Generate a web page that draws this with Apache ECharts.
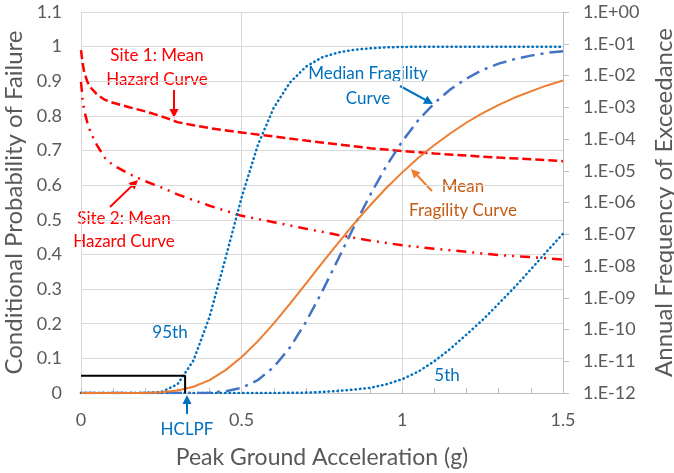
<!DOCTYPE html>
<html>
<head>
<meta charset="utf-8">
<script src="https://cdn.jsdelivr.net/npm/echarts@6/dist/echarts.min.js"></script>
<style>
  html, body { margin: 0; padding: 0; background: #fff; }
  #chart { width: 674px; height: 473px; }
</style>
</head>
<body>
<div id="chart"></div>
<script>
// fragility curves — PGA (g) vs conditional probability of failure
const fragX = [0, 0.05, 0.1, 0.15, 0.2, 0.25, 0.3, 0.35, 0.4, 0.45, 0.5, 0.55, 0.6, 0.65, 0.7, 0.75,
  0.8, 0.85, 0.9, 0.95, 1.0, 1.05, 1.1, 1.15, 1.2, 1.25, 1.3, 1.35, 1.4, 1.45, 1.5];
const frag95 = [0, 0, 0, 0, 0.0001, 0.003, 0.025, 0.094, 0.22, 0.39, 0.565, 0.715, 0.824, 0.896, 0.942, 0.969,
  0.983, 0.991, 0.995, 0.998, 0.999, 1, 1, 1, 1, 1, 1, 1, 1, 1, 1];
const fragMedian = [0, 0, 0, 0, 0, 0, 0, 0, 0.001, 0.005, 0.015, 0.037, 0.075, 0.131, 0.205, 0.292,
  0.386, 0.481, 0.572, 0.655, 0.727, 0.788, 0.837, 0.877, 0.908, 0.933, 0.951, 0.964, 0.974, 0.982, 0.987];
const fragMean = [0, 0, 0, 0, 0.0003, 0.002, 0.007, 0.018, 0.037, 0.066, 0.104, 0.149, 0.201, 0.257, 0.316, 0.375,
  0.433, 0.489, 0.542, 0.592, 0.637, 0.679, 0.716, 0.75, 0.781, 0.808, 0.832, 0.853, 0.871, 0.888, 0.902];
const frag5 = [0, 0, 0, 0, 0, 0, 0, 0, 0, 0, 0, 0, 0.0002, 0.0005, 0.0012, 0.003,
  0.006, 0.01, 0.015, 0.025, 0.04, 0.062, 0.092, 0.128, 0.169, 0.211, 0.258, 0.306, 0.357, 0.409, 0.46];

// HCLPF marker (95th curve at 5%)
const hclpfX = [0, 0.324, 0.324];
const hclpfY = [0.05, 0.05, 0];

// seismic hazard curves — annual frequency of exceedance
const hazX = [0, 0.005, 0.01, 0.02, 0.03, 0.05, 0.075, 0.1, 0.15, 0.2, 0.25, 0.3, 0.35, 0.4,
  0.5, 0.6, 0.7, 0.8, 0.9, 1.0, 1.1, 1.2, 1.3, 1.4, 1.5];
const site1 = [6.3e-2, 2.5e-2, 1.26e-2, 6.3e-3, 4.2e-3, 2.5e-3, 1.7e-3, 1.38e-3, 1.0e-3, 7.4e-4, 5.2e-4, 3.4e-4, 2.7e-4, 2.2e-4,
  1.6e-4, 1.2e-4, 8.9e-5, 6.8e-5, 5.1e-5, 4.2e-5, 3.5e-5, 3.0e-5, 2.6e-5, 2.3e-5, 2.0e-5];
const site2 = [6.3e-3, 1.8e-3, 7.9e-4, 3.2e-4, 1.6e-4, 6.3e-5, 2.5e-5, 1.5e-5, 7.9e-6, 4.7e-6, 3.0e-6, 1.8e-6, 1.2e-6, 7.9e-7,
  3.8e-7, 2.4e-7, 1.5e-7, 9.5e-8, 6.3e-8, 4.5e-8, 3.5e-8, 2.8e-8, 2.2e-8, 1.9e-8, 1.6e-8];

const rightTickLabels = ["1.E+00", "1.E-01", "1.E-02", "1.E-03", "1.E-04", "1.E-05", "1.E-06",
  "1.E-07", "1.E-08", "1.E-09", "1.E-10", "1.E-11", "1.E-12"];

const FONT = "Lato, 'Open Sans', sans-serif";
const GREY = "#595959";
const RED = "#FF0000";
const BLUE = "#0070C0";

const zip = (xs, ys) => xs.map((x, i) => [x, ys[i]]);

function arrow(x1, y1, x2, y2, color) {
  const dx = x2 - x1, dy = y2 - y1;
  const len = Math.hypot(dx, dy);
  const ux = dx / len, uy = dy / len;
  const L = 9, W = 4.5;
  const bx = x2 - ux * L, by = y2 - uy * L;
  return {
    type: "group",
    children: [
      { type: "line", shape: { x1, y1, x2: bx + ux * 2, y2: by + uy * 2 }, style: { stroke: color, lineWidth: 2 } },
      {
        type: "polygon",
        shape: { points: [[x2, y2], [bx - uy * W, by + ux * W], [bx + uy * W, by - ux * W]] },
        style: { fill: color }
      }
    ]
  };
}

function label(text, x, y, color) {
  return {
    type: "text", x, y,
    style: { text, fill: color, font: "17px " + FONT, textAlign: "center", textVerticalAlign: "middle" }
  };
}

const chart = echarts.init(document.getElementById("chart"), null, { renderer: "canvas" });

chart.setOption({
  animation: false,
  backgroundColor: "#fff",
  grid: { left: 81, right: 111, top: 12, bottom: 80, outerBoundsMode: "none" },
  xAxis: {
    type: "value",
    min: 0, max: 1.5, interval: 0.5,
    name: "Peak Ground Acceleration (g)",
    nameLocation: "middle", nameGap: 53,
    nameTextStyle: { color: GREY, fontSize: 23, fontFamily: FONT },
    axisLine: { lineStyle: { color: "#BFBFBF", width: 1 } },
    axisTick: { show: true, inside: true, length: 5, lineStyle: { color: "#BFBFBF" } },
    minorTick: { show: true, splitNumber: 5, length: 5, lineStyle: { color: "#BFBFBF" } },
    axisLabel: { color: GREY, fontSize: 18, fontFamily: FONT, margin: 18 },
    splitLine: { show: true, lineStyle: { color: "#D9D9D9" } }
  },
  yAxis: [
    {
      type: "value",
      min: 0, max: 1.1, interval: 0.1,
      name: "Conditional Probability of Failure",
      nameLocation: "middle", nameGap: 50,
      nameTextStyle: { color: GREY, fontSize: 24, fontFamily: FONT },
      axisLine: { show: true, lineStyle: { color: "#D9D9D9" } },
      axisTick: { show: false },
      axisLabel: { color: GREY, fontSize: 18, fontFamily: FONT, margin: 19 },
      splitLine: { show: true, lineStyle: { color: "#D9D9D9" } }
    },
    {
      type: "log",
      logBase: 10,
      min: 1e-12, max: 1, interval: 1, splitNumber: 12,
      name: "Annual Frequency of Exceedance",
      nameLocation: "middle", nameGap: 89,
      nameTextStyle: { color: GREY, fontSize: 24, fontFamily: FONT },
      axisLine: { show: true, lineStyle: { color: "#BFBFBF" } },
      axisTick: { show: true, length: 6, lineStyle: { color: "#BFBFBF" } },
      axisLabel: {
        color: GREY, fontSize: 18, fontFamily: FONT, margin: 20,
        formatter: (v) => rightTickLabels[-Math.round(Math.log10(v))]
      },
      splitLine: { show: false }
    }
  ],
  series: [
    {
      name: "Site 1", type: "line", yAxisIndex: 1, data: zip(hazX, site1),
      showSymbol: false, lineStyle: { color: RED, width: 2.5, type: [9, 4] }
    },
    {
      name: "Site 2", type: "line", yAxisIndex: 1, data: zip(hazX, site2),
      showSymbol: false, lineStyle: { color: RED, width: 2.5, type: [10, 6, 2, 6, 2, 6] }
    },
    {
      name: "95th", type: "line", data: zip(fragX, frag95),
      showSymbol: false, lineStyle: { color: BLUE, width: 2.5, type: [0.5, 4], cap: "round" }
    },
    {
      name: "5th", type: "line", data: zip(fragX, frag5),
      showSymbol: false, lineStyle: { color: BLUE, width: 2.5, type: [0.5, 4], cap: "round" }
    },
    {
      name: "Median", type: "line", data: zip(fragX, fragMedian),
      showSymbol: false, lineStyle: { color: "#4472C4", width: 2.5, type: [14, 6, 3, 6] }
    },
    {
      name: "Mean", type: "line", data: zip(fragX, fragMean),
      showSymbol: false, lineStyle: { color: "#ED7D31", width: 2 }
    },
    {
      name: "HCLPF", type: "line", data: zip(hclpfX, hclpfY),
      showSymbol: false, lineStyle: { color: "#000", width: 2 }
    }
  ],
  graphic: [
    label("Site 1: Mean", 157, 56, RED),
    label("Hazard Curve", 157, 80, RED),
    arrow(174, 90, 174, 118, RED),
    label("Site 2: Mean", 124, 219, RED),
    label("Hazard Curve", 124, 242, RED),
    arrow(110, 207, 138, 180, RED),
    label("Median Fragility", 368, 74, BLUE),
    label("Curve", 368, 99, BLUE),
    arrow(400, 86, 433, 104, BLUE),
    label("Mean", 463, 187, "#C55A11"),
    label("Fragility Curve", 463, 211, "#C55A11"),
    arrow(432, 191, 411, 169, "#ED7D31"),
    label("95th", 170, 333, BLUE),
    label("5th", 447, 376, BLUE),
    label("HCLPF", 187, 430, BLUE),
    arrow(187, 414, 187, 395, BLUE)
  ]
});
</script>
</body>
</html>
